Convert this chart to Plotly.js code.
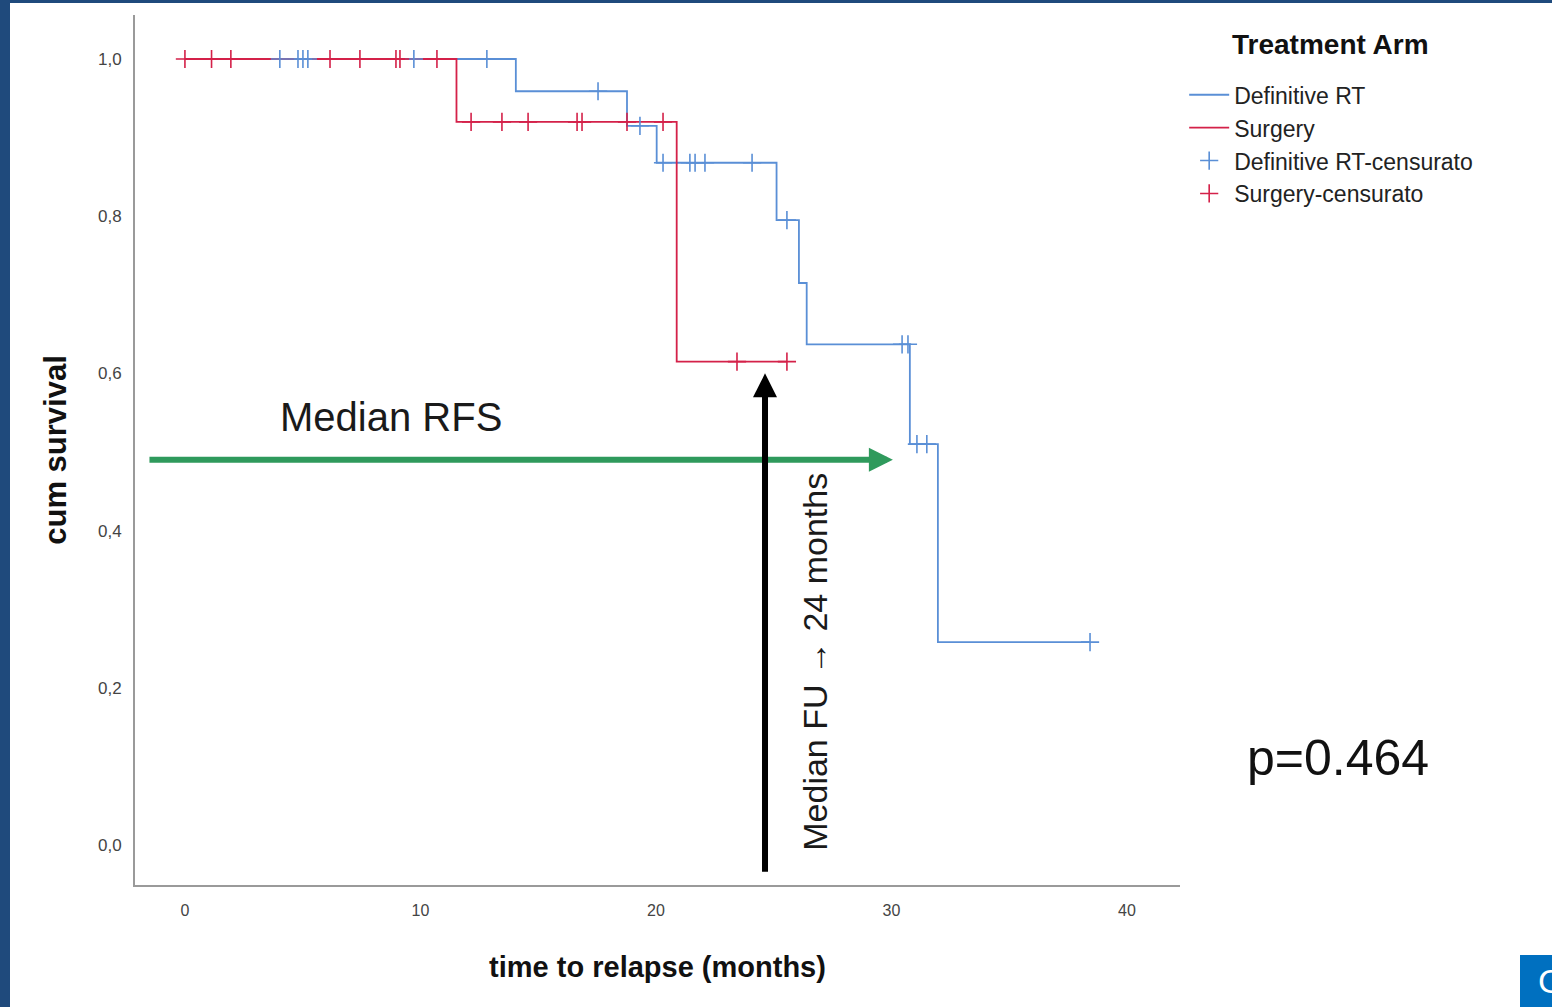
<!DOCTYPE html>
<html>
<head>
<meta charset="utf-8">
<script src="https://cdn.plot.ly/plotly-3.0.1.min.js"></script>
<style>
  html, body { margin: 0; padding: 0; background: #ffffff; }
  #chart { width: 1552px; height: 1007px; }
  #leftbar { position: absolute; left: 0; top: 0; width: 10px; height: 1007px; background: #1f4a7c; }
  #topbar { position: absolute; left: 0; top: 0; width: 1552px; height: 3px; background: #1f4a7c; }
  #corner { position: absolute; left: 1520px; top: 955px; width: 32px; height: 52px; background: #0070c0; overflow: hidden;
            color: #ffffff; font-family: 'Liberation Sans', Arial, sans-serif; font-size: 34px; line-height: 52px; padding-left: 18px; box-sizing: border-box; }
</style>
</head>
<body>
<div id="chart"></div>
<div id="leftbar"></div>
<div id="topbar"></div>
<div id="corner">C</div>
<script>
// ---- Data ----
// Definitive RT: event times (months) and survival after each step
const rtTimes = [0, 14.05, 18.77, 20.03, 25.12, 26.07, 26.40, 30.78, 31.97, 38.43];
const rtSurv  = [1.0, 0.959, 0.915, 0.868, 0.795, 0.715, 0.637, 0.510, 0.258, 0.258];
// Surgery
const sxTimes = [0, 11.53, 20.88, 25.56];
const sxSurv  = [1.0, 0.920, 0.615, 0.615];
// Censored observations (months)
const rtCensor = [4.03, 4.80, 5.01, 5.22, 9.72, 12.82, 17.54, 19.32, 20.30, 21.44, 21.66, 22.08, 24.08, 25.56, 30.45, 30.70, 31.08, 31.50, 38.43];
const sxCensor = [0, 1.13, 1.95, 6.16, 7.43, 8.96, 9.13, 10.70, 12.15, 13.46, 14.57, 16.65, 16.86, 18.77, 20.30, 23.44, 25.56];
// Axis ticks
const xTicks = [0, 10, 20, 30, 40];
const yTicks = [0, 0.2, 0.4, 0.6, 0.8, 1.0];
// Series names
const seriesNames = ['Definitive RT', 'Surgery', 'Definitive RT-censurato', 'Surgery-censurato'];

// survival value of a step curve at time t
function stepAt(times, surv, t) {
  let v = surv[0];
  for (let i = 0; i < times.length; i++) { if (times[i] <= t) v = surv[i]; }
  return v;
}

const blue = '#5a8fd6';
const red = '#d42149';
const FONT = "'Liberation Sans', Arial, sans-serif";

const traces = [
  { x: rtTimes, y: rtSurv, mode: 'lines', line: { shape: 'hv', color: blue, width: 1.8 }, name: seriesNames[0] },
  { x: sxTimes, y: sxSurv, mode: 'lines', line: { shape: 'hv', color: red, width: 1.8 }, name: seriesNames[1] },
  { x: rtCensor, y: rtCensor.map(t => stepAt(rtTimes, rtSurv, t)), mode: 'markers',
    marker: { symbol: 'cross-thin-open', size: 13, color: blue, line: { color: blue, width: 1.6 } }, name: seriesNames[2] },
  { x: sxCensor, y: sxCensor.map(t => stepAt(sxTimes, sxSurv, t)), mode: 'markers',
    marker: { symbol: 'cross-thin-open', size: 13, color: red, line: { color: red, width: 1.6 } }, name: seriesNames[3] }
];

const layout = {
  width: 1552, height: 1007,
  margin: { l: 135, r: 372, t: 15, b: 122 },
  paper_bgcolor: '#ffffff', plot_bgcolor: '#ffffff',
  separators: ', ',
  font: { family: FONT, color: '#222222' },
  showlegend: true,
  legend: {
    x: 1.004, xanchor: 'left', y: 0.933, yanchor: 'top',
    bgcolor: 'rgba(0,0,0,0)',
    font: { family: FONT, size: 23, color: '#222222' },
    itemwidth: 40
  },
  xaxis: {
    range: [-2.12, 42.25], tickvals: xTicks, ticktext: xTicks.map(String),
    showgrid: false, zeroline: false, showline: true, linecolor: '#9a9a9a', linewidth: 2,
    ticks: 'outside', ticklen: 10, tickcolor: 'rgba(0,0,0,0)',
    tickfont: { family: FONT, size: 16, color: '#444444' },
    title: { text: '<b>time to relapse (months)</b>', font: { family: FONT, size: 29, color: '#111111' }, standoff: 38 }
  },
  yaxis: {
    range: [-0.051, 1.056], tickvals: yTicks, tickformat: '.1f',
    showgrid: false, zeroline: false, showline: true, linecolor: '#9a9a9a', linewidth: 2,
    ticks: 'outside', ticklen: 8, tickcolor: 'rgba(0,0,0,0)',
    tickfont: { family: FONT, size: 17, color: '#444444' },
    title: { text: '<b>cum survival</b>', font: { family: FONT, size: 31, color: '#111111' }, standoff: 22 }
  },
  annotations: [
    { x: 30.06, y: 0.49, ax: -1.57, ay: 0.49, xref: 'x', yref: 'y', axref: 'x', ayref: 'y',
      showarrow: true, arrowhead: 2, arrowsize: 0.8, arrowwidth: 6, arrowcolor: '#2f9a5c', text: '' },
    { x: 24.63, y: 0.60, ax: 24.63, ay: -0.036, xref: 'x', yref: 'y', axref: 'x', ayref: 'y',
      showarrow: true, arrowhead: 2, arrowsize: 0.8, arrowwidth: 6, arrowcolor: '#000000', text: '' },
    { x: 8.75, y: 0.545, xref: 'x', yref: 'y', showarrow: false, text: 'Median RFS',
      font: { family: FONT, size: 40, color: '#1a1a1a' } },
    { x: 26.75, y: 0.233, xref: 'x', yref: 'y', showarrow: false, text: 'Median FU → 24 months', textangle: -90,
      font: { family: FONT, size: 34, color: '#1a1a1a' } },
    { x: 1.151, y: 0.111, xref: 'paper', yref: 'y', xanchor: 'center', yanchor: 'middle', showarrow: false, text: 'p=0.464',
      font: { family: FONT, size: 50, color: '#111111' } },
    { x: 1.144, y: 45, xref: 'paper', yref: 'paper', xanchor: 'center', yanchor: 'middle', showarrow: false,
      text: '<b>Treatment Arm</b>', font: { family: FONT, size: 28, color: '#111111' } }
  ]
};
// legend-title annotation: place at 45px from the top of the page (converted to paper units)
layout.annotations[5].y = (1007 - 122 - 45) / (1007 - 122 - 15);

Plotly.newPlot('chart', traces, layout, { staticPlot: true, displayModeBar: false });
</script>
</body>
</html>
